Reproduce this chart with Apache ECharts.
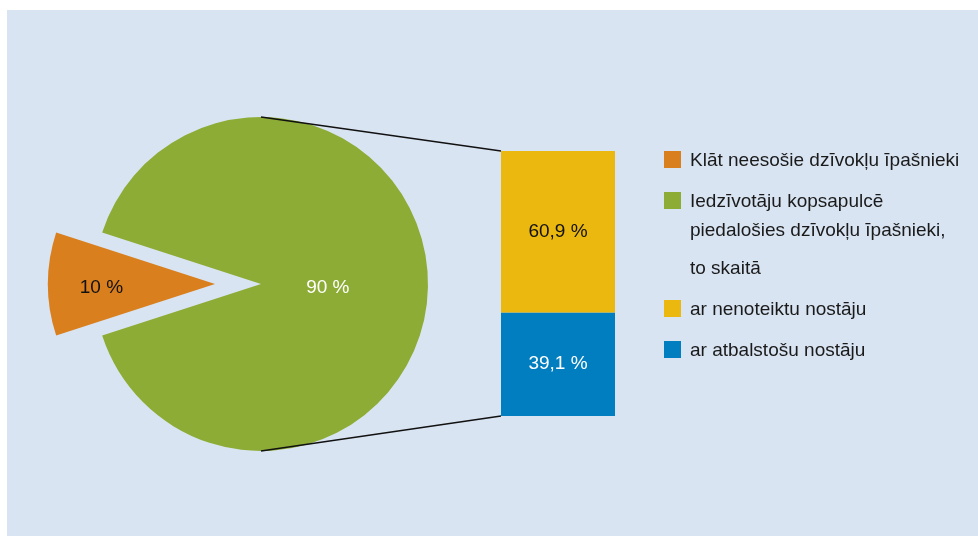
<!DOCTYPE html>
<html>
<head>
<meta charset="utf-8">
<script src="https://cdn.jsdelivr.net/npm/echarts@6/dist/echarts.min.js"></script>
<style>
  html, body { margin: 0; padding: 0; background: #ffffff; }
  #chart { width: 978px; height: 536px; }
</style>
</head>
<body>
<div id="chart"></div>
<script>
// Pie: share of owners present vs. absent at the residents' meeting
const pieNames = ['Klāt neesošie dzīvokļu īpašnieki', 'Iedzīvotāju kopsapulcē piedalošies dzīvokļu īpašnieki, to skaitā'];
const pieValues = [10, 90];
const pieColors = ['#d97f1e', '#8dac35'];
const pieLabelColors = ['#111111', '#ffffff'];

// Bar: breakdown of the attending owners by stance
const barNames = ['ar atbalstošu nostāju', 'ar nenoteiktu nostāju'];
const barValues = [39.1, 60.9];
const barColors = ['#007ec0', '#ebb810'];
const barLabelColors = ['#ffffff', '#111111'];

// Legend text lines (one entry per colour, green one spans several lines)
const legendLines = [
  ['Klāt neesošie dzīvokļu īpašnieki'],
  ['Iedzīvotāju kopsapulcē', 'piedalošies dzīvokļu īpašnieki,', 'to skaitā'],
  ['ar nenoteiktu nostāju'],
  ['ar atbalstošu nostāju']
];
const legendColors = ['#d97f1e', '#8dac35', '#ebb810', '#007ec0'];

const FONT = '"Liberation Sans", Arial, sans-serif';
const fmt = v => String(v).replace('.', ',') + ' %';

const pieCenter = [261, 284];
const pieRadius = 167;
const explode = 46;          // the first slice is pulled out by this much
const startAngle = 198;
// label distance from the slice apex, as a share of the radius, plus a small vertical nudge
const labelRadiusShare = [0.68, 0.4];
const labelNudgeY = [4, 4];
const grid = { left: 501, top: 151, width: 114, height: 265 };

// Mid angle (radians) of each slice, going clockwise from startAngle
const total = pieValues.reduce((a, b) => a + b, 0);
let acc = 0;
const midAngles = pieValues.map(v => {
  const mid = startAngle - (acc + v / 2) / total * 360;
  acc += v;
  return mid * Math.PI / 180;
});

// Apex of each slice: the pulled-out slice is shifted along its mid angle
const sliceCenters = pieValues.map((v, i) => {
  const off = i === 0 ? explode : 0;
  return [pieCenter[0] + Math.cos(midAngles[i]) * off, pieCenter[1] - Math.sin(midAngles[i]) * off];
});

function sliceLabelPos(i) {
  const a = midAngles[i];
  const d = labelRadiusShare[i] * pieRadius;
  const c = sliceCenters[i];
  return { x: c[0] + Math.cos(a) * d, y: c[1] - Math.sin(a) * d + labelNudgeY[i] };
}

// One pie series per slice, so each slice can have its own apex; the other
// slice is kept as an invisible spacer to preserve the angles.
const pieSeries = pieValues.map((_, s) => ({
  type: 'pie',
  center: sliceCenters[s],
  radius: pieRadius,
  startAngle: startAngle,
  clockwise: true,
  silent: true,
  label: {
    position: 'inside',
    fontFamily: FONT,
    fontSize: 19,
    formatter: p => fmt(p.value)
  },
  labelLine: { show: false },
  labelLayout: () => {
    const pos = sliceLabelPos(s);
    return { x: pos.x, y: pos.y, align: 'center', verticalAlign: 'middle' };
  },
  emphasis: { disabled: true },
  data: pieValues.map((v, i) => ({
    name: pieNames[i],
    value: v,
    itemStyle: { color: i === s ? pieColors[i] : 'rgba(0,0,0,0)' },
    label: { show: i === s, color: pieLabelColors[i] }
  }))
}));

const chart = echarts.init(document.getElementById('chart'), null, { renderer: 'canvas' });

const option = {
  animation: false,
  backgroundColor: '#ffffff',
  grid: Object.assign({ containLabel: false }, grid),
  xAxis: { type: 'category', data: [''], show: false },
  yAxis: { type: 'value', min: 0, max: 100, show: false },
  series: [
    ...pieSeries,
    ...barValues.map((v, i) => ({
      type: 'bar',
      name: barNames[i],
      stack: 'stance',
      barWidth: '100%',
      silent: true,
      itemStyle: { color: barColors[i] },
      label: {
        show: true,
        position: 'inside',
        color: barLabelColors[i],
        fontFamily: FONT,
        fontSize: 19,
        formatter: p => fmt(p.value)
      },
      data: [v]
    }))
  ]
};

chart.setOption(option);

// Background panel, connector lines and legend drawn as graphics
const barTop = chart.convertToPixel({ gridIndex: 0 }, [0, 100]);
const barBottom = chart.convertToPixel({ gridIndex: 0 }, [0, 0]);
const barLeft = grid.left;

const graphics = [
  {
    type: 'rect', z: -10, silent: true,
    shape: { x: 7, y: 10, width: 978, height: 536 },
    style: { fill: '#d9e4f2' }
  },
  {
    type: 'line', silent: true, z: 5,
    shape: { x1: pieCenter[0], y1: pieCenter[1] - pieRadius, x2: barLeft, y2: barTop[1] },
    style: { stroke: '#111111', lineWidth: 1.4 }
  },
  {
    type: 'line', silent: true, z: 5,
    shape: { x1: pieCenter[0], y1: pieCenter[1] + pieRadius, x2: barLeft, y2: barBottom[1] },
    style: { stroke: '#111111', lineWidth: 1.4 }
  }
];

const legendX = 664, textX = 690;
const itemTops = [160, 201, 309, 350];
const lineOffsets = [[0], [0, 29, 67], [0], [0]];
legendLines.forEach((lines, i) => {
  graphics.push({
    type: 'rect', silent: true,
    shape: { x: legendX, y: itemTops[i] - 9, width: 17, height: 17 },
    style: { fill: legendColors[i] }
  });
  lines.forEach((t, k) => {
    graphics.push({
      type: 'text', silent: true,
      x: textX, y: itemTops[i] + lineOffsets[i][k] + 1,
      style: {
        text: t, fill: '#1a1a1a', font: '19px ' + FONT,
        textVerticalAlign: 'middle', verticalAlign: 'middle'
      }
    });
  });
});

chart.setOption({ graphic: graphics });
</script>
</body>
</html>
